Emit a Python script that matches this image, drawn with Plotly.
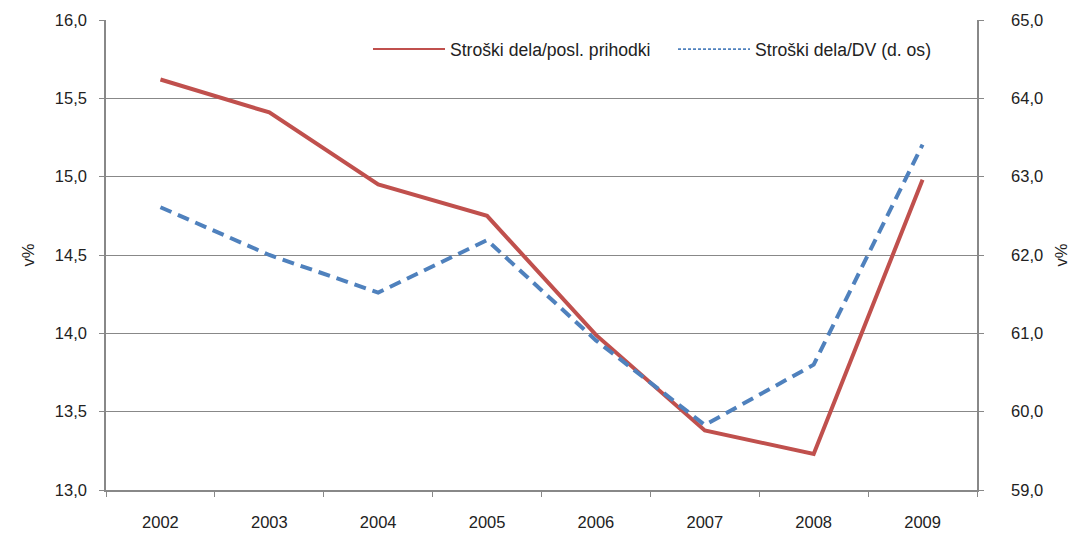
import plotly.graph_objects as go

years = ["2002", "2003", "2004", "2005", "2006", "2007", "2008", "2009"]
stroski_posl = [15.62, 15.41, 14.95, 14.75, 13.99, 13.38, 13.23, 14.98]
stroski_dv = [62.61, 62.00, 61.52, 62.19, 60.91, 59.83, 60.60, 63.41]

name_posl = "Stroški dela/posl. prihodki"
name_dv = "Stroški dela/DV (d. os)"

RED = "#C0504D"
BLUE = "#4F81BD"
GRID = "#888888"
TXT = "#222222"
FONT = "Liberation Sans, Arial, sans-serif"

fig = go.Figure()
fig.add_trace(go.Scatter(x=years, y=stroski_posl, name=name_posl, mode="lines",
                         line=dict(color=RED, width=4), yaxis="y", showlegend=False))
fig.add_trace(go.Scatter(x=years, y=stroski_dv, name=name_dv, mode="lines",
                         line=dict(color=BLUE, width=4, dash="12px,7px"), yaxis="y2",
                         showlegend=False))
# legend proxies (thin line samples as in the reference)
fig.add_trace(go.Scatter(x=[None], y=[None], name=name_posl, mode="lines",
                         line=dict(color=RED, width=2), legend="legend"))
fig.add_trace(go.Scatter(x=[None], y=[None], name=name_dv, mode="lines",
                         line=dict(color=BLUE, width=1.8, dash="3px,2px"), legend="legend2"))

leg_common = dict(orientation="h", y=0.938, xanchor="left", yanchor="middle",
                  font=dict(size=17.6, family=FONT, color=TXT),
                  bgcolor="rgba(0,0,0,0)", itemwidth=72)

fig.update_layout(
    width=1074, height=533,
    margin=dict(l=106, r=97, t=20, b=43),
    paper_bgcolor="white", plot_bgcolor="white",
    separators=",.",
    font=dict(family=FONT, size=16.5, color=TXT),
    showlegend=True,
    legend=dict(x=0.3008, **leg_common),
    legend2=dict(x=0.651, **leg_common),
    xaxis=dict(type="category", range=[-0.5, 7.5], showgrid=False,
               showline=True, linecolor=GRID, linewidth=1.5,
               ticks="outside", tickson="boundaries", ticklen=5, tickcolor=GRID,
               tickfont=dict(size=16.5), zeroline=False, ticklabelstandoff=16,
               automargin=False),
    yaxis=dict(range=[13.0, 16.0], dtick=0.5, tick0=13.0, tickformat=".1f",
               showgrid=True, gridcolor=GRID, gridwidth=1,
               showline=True, linecolor=GRID, linewidth=1.5,
               ticks="outside", ticklen=5, tickcolor=GRID,
               tickfont=dict(size=16.5), zeroline=False, ticklabelstandoff=9,
               automargin=False,
               title=dict(text="v%", font=dict(size=16.5), standoff=16)),
    yaxis2=dict(range=[59.0, 65.0], dtick=1.0, tick0=59.0, tickformat=".1f",
                overlaying="y", side="right", showgrid=False,
                showline=True, linecolor=GRID, linewidth=1.5,
                ticks="outside", ticklen=5, tickcolor=GRID,
                tickfont=dict(size=16.5), zeroline=False, ticklabelstandoff=24,
                automargin=False,
                title=dict(text="v%", font=dict(size=16.5), standoff=13)),
)

fig.write_html("out.html", config={"displayModeBar": False},
               post_script="document.body.style.margin='0';document.body.style.overflow='hidden';")
